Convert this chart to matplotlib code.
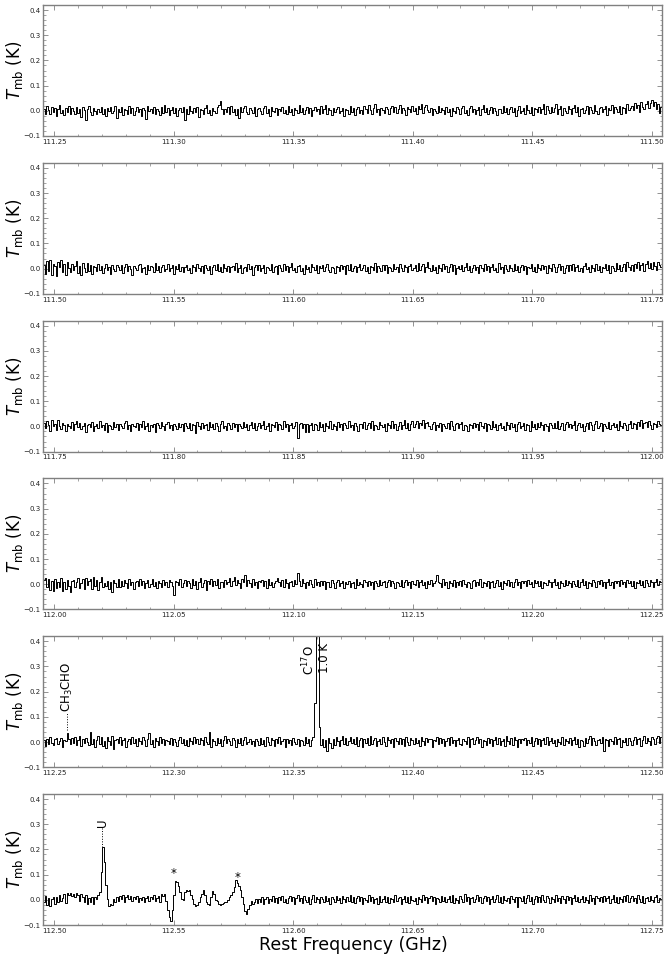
import numpy as np
import matplotlib
matplotlib.use("Agg")
import matplotlib.pyplot as plt
from matplotlib.ticker import MultipleLocator, FormatStrFormatter, FuncFormatter

# ---------------- data (main-beam temperature in mK per channel) ----------------
panel_start = [111.25, 111.50, 111.75, 112.00, 112.25, 112.50]  # first labelled tick (GHz)

spec1 = [8, -14, 20, 3, -11, 17, -6, 13, -21, 7, 22, -8, 4, -17, 11, -3, 18, -13, 10, 0,
         -13, 15, -7, 6, -24, 14, 4, -35, 8, 20, -4, -18, 10, 1, -11, 7, -3, 17, -14, 6,
         -22, 13, 0, 15, -8, -1, 21, -28, 7, -4, 14, -15, 8, 3, -11, 18, -7, 10, -17, 1,
         15, -6, 7, -20, 11, 4, -32, 20, -1, 8, -10, 17, -13, 6, 1, -18, 14, -8, 22, -3,
         10, -15, 4, 17, -7, 13, -20, 3, 11, -6, 14, -36, 8, -11, 18, 0, -8, 13, -4, 15,
         -24, 7, 3, -13, 10, 22, -7, 4, -15, 13, -1, -10, 17, 24, 38, 7, -14, 8, -4, 15,
         -11, 20, -3, 6, -18, 8, -30, 14, -6, 11, 21, -4, -14, 10, 3, -8, 15, -20, 7, 13,
         -1, -11, 10, 18, -7, 6, -22, 14, 1, -6, 11, -17, 8, 0, 17, -10, 4, -13, 20, -3,
         7, -18, 13, 4, -8, 24, -4, 10, -14, 3, 15, -7, 11, -21, 4, 14, -1, 8, -11, 18,
         -10, 6, 25, -14, 10, 3, -17, 13, -6, 7, 17, -8, 1, 11, -20, 8, 4, -13, 21, -4,
         10, -15, 6, 14, -7, 3, -11, 18, 8, -10, 22, 4, -14, 11, 26, -6, 7, -18, 13, 3,
         -8, 15, 6, -13, 10, 20, -4, 14, -10, 7, 24, -7, 13, 4, -15, 17, 8, -6, 21, 1,
         11, -11, 18, 7, 26, -8, 14, 22, 4, -3, 13, -17, 8, 1, -10, 20, -6, 11, 3, -14,
         17, -4, 7, -20, 13, 0, -8, 15, 6, -13, 10, 21, -7, 4, -15, 11, 18, -3, 8, -11,
         4, 14, -17, 7, 24, -6, 10, -13, 3, 17, -8, 13, -1, -18, 8, 6, -10, 20, -4, 11,
         -14, 7, 15, -6, 11, -21, 4, 18, -8, 1, 13, -11, 22, 3, -7, 14, -15, 10, 6, -4,
         17, -10, 8, 26, -13, 20, 4, -7, 15, -3, 10, 28, -11, 6, 21, -17, 13, 1, -8, 18,
         7, -14, 11, 24, -4, 17, -20, 8, 13, -7, 3, 20, -11, 14, 4, -8, 22, 1, -13, 10,
         15, -6, 8, 18, -15, 11, 3, 25, -8, 14, 6, -3, 21, -13, 17, 10, -7, 26, 4, 13,
         18, 3, 30, 10, 24, -6, 34, 16, 8, 28, 40, 13, 32, 44, 20, 36, 7, 26, -10, 15]

spec2 = [14, -22, 32, -8, 35, -26, 19, 10, -30, 26, 5, 33, -15, 17, -24, 28, 4, -13, 20, -5,
         10, 30, -18, 12, -27, 22, 3, -14, 24, -9, 16, -20, 11, 5, -11, 19, -7, 10, -16, 3,
         17, -6, 8, -22, 13, 0, -11, 15, 7, -4, 14, -18, 6, 20, -8, 10, -1, -25, 11, 4,
         -7, 13, 18, -14, 3, 8, -20, 15, -6, 10, 6, -13, 21, -4, 11, -15, 7, 14, -10, 0,
         18, -8, 4, 13, -22, 10, -3, 17, -11, 6, -14, 8, 15, -6, 3, -18, 13, 7, -10, 20,
         4, -11, 10, -17, 14, 1, -7, 11, -21, 8, 13, -4, 17, -10, 6, -14, 18, 3, -8, 11,
         -15, 7, 10, -6, 22, -13, 4, 14, -18, 1, 8, -10, 20, -3, 11, -24, 7, 15, -6, 13,
         -11, 4, 14, -17, 8, 3, -7, 18, -13, 6, 10, -20, 13, 1, -8, 17, -4, 11, -14, 7,
         21, -6, 3, -15, 10, 14, -10, 4, -22, 15, 0, 8, -13, 18, 6, -7, 13, -17, 10, 1,
         14, -11, 7, 20, -4, -14, 8, 3, -18, 11, 6, -8, 15, -3, 10, -21, 13, -6, 17, -10,
         4, 11, -15, 7, 18, -7, 1, 14, -11, 8, -17, 10, 6, -4, 21, -13, 11, 3, -8, 15,
         -6, 13, -18, 8, 4, -10, 17, -3, 7, -14, 20, 1, -11, 14, 6, -15, 10, 18, -7, 4,
         13, -8, 22, -4, 11, 17, -13, 7, 25, 3, -10, 14, -6, 8, -17, 15, 4, -11, 20, -1,
         10, -14, 6, 17, -8, 13, -20, 4, 11, -3, 15, -10, 7, 21, -6, 10, -15, 3, 14, -7,
         8, -18, 13, 1, -10, 18, -4, 11, -14, 6, 17, -7, 4, -13, 22, -3, 8, -17, 13, 0,
         -8, 15, 3, -11, 20, -6, 10, -15, 7, 14, -4, 11, -21, 8, 1, 18, -10, 6, -13, 17,
         3, -7, 14, -1, 10, -18, 13, 4, -11, 17, 7, -14, 8, 20, -6, 11, -17, 4, 15, -8,
         13, -4, 18, -11, 6, 14, -8, 3, -15, 10, 21, -3, 8, -13, 15, 1, -10, 18, -6, 11,
         -14, 8, 4, 17, -7, 13, -18, 10, 3, -10, 22, -1, 14, -11, 7, 18, -8, 25, 6, -4,
         15, -11, 20, 3, 26, -6, 13, 22, -8, 17, 30, 4, 21, -3, 25, 11, -7, 28, 14, 8]

spec3 = [14, -7, 20, 4, -17, 24, 0, 10, -13, 26, 3, -10, 15, 7, -20, 11, 1, -6, 18, -14,
         8, 21, -4, 13, -11, 0, 15, -24, 6, 10, -4, 17, -18, 3, 11, -8, 20, -1, 4, -13,
         14, -21, 7, 1, -10, 18, -3, 8, -15, 11, 0, -7, 13, 22, -11, 6, -20, 10, 3, -1,
         15, -14, 8, -4, 21, -10, 1, 13, -17, 7, -3, 11, -22, 14, 4, -8, 17, 0, -13, 10,
         18, -6, 7, -15, 11, 3, -11, 14, -1, 8, -18, 13, 1, -7, 15, -14, 10, 4, -25, 17,
         3, -10, 13, -6, 6, 11, -13, 18, -4, 8, -10, 14, 0, -17, 10, 20, -7, 3, -14, 13,
         4, -11, 15, -3, 8, -20, 11, 1, -8, 17, -1, 10, -15, 7, 18, -6, 13, -13, 3, 14,
         -8, 6, 21, -11, 0, 15, -18, 10, 7, -4, 17, -14, 8, 4, -10, 20, -3, 11, -17, 6,
         13, -7, 3, 18, -45, 8, 14, -6, 10, -21, 10, -22, 7, 15, -13, 8, 4, -14, 17, -4,
         11, -18, 14, 0, -7, 20, -11, 8, 3, -14, 18, -3, 10, -15, 13, 6, -8, 21, -1, 7,
         -13, 15, 3, -20, 11, 8, -6, 17, -10, 4, 14, -7, 20, -14, 7, 1, -11, 18, 6, -4,
         10, -17, 13, 4, -8, 22, -7, 11, -15, 3, 17, -10, 7, 24, -6, 14, -13, 8, 20, -4,
         11, 21, -8, 15, 4, 26, -7, 13, 18, 0, -10, 8, 17, -14, 6, -3, 13, -18, 10, 1,
         -7, 14, -11, 20, 3, -15, 8, 13, -6, 10, 17, -13, 4, 0, -20, 11, 7, -8, 15, -3,
         8, -14, 18, 1, -6, 13, -17, 10, 4, -11, 21, -4, 11, -15, 7, 14, -8, 3, -13, 17,
         6, -10, 15, -3, 11, -20, 8, 18, -7, 1, 13, -14, 10, 4, -17, 20, -1, 8, -11, 14,
         -4, 17, 7, -13, 10, 0, -18, 15, 6, -8, 14, -6, 22, -11, 3, 13, -15, 8, 18, -3,
         11, -8, 4, 20, -14, 7, 15, -4, 10, -18, 3, 14, -10, 17, 6, -13, 8, 21, -7, 1,
         13, -17, 10, 3, -7, 18, -11, 6, 15, -4, 8, -14, 20, 0, -8, 13, 4, -15, 11, 22,
         -6, 14, 8, -11, 18, 3, 25, -7, 13, 17, -4, 21, 6, -10, 15, 11, -3, 20, 8, 4]

spec4 = [18, 26, -10, 20, -22, 13, -28, 22, -15, 10, -13, 24, -26, 7, -19, 15, -8, -30, 12, 18,
         -10, 8, 24, -15, 4, 20, -21, 26, -5, 13, 19, -18, 28, -9, 15, -23, 10, 30, -12, 5,
         -7, 13, -19, 9, -32, 17, 4, -13, 21, -10, 12, -8, 18, 3, -14, 22, -4, 10, -18, 7,
         14, -9, 20, -3, 12, -17, 5, 16, -12, 0, 19, -7, 9, -16, 13, 4, -10, 18, -5, 8,
         -13, 16, 7, -8, -42, 14, 10, -4, 20, -12, 5, 17, -9, 13, 3, -14, 22, -5, 12, -19,
         10, 24, -10, 4, 17, -22, 12, 0, 19, -8, 13, -5, 22, -16, 7, 9, -13, 18, 1, 8,
         26, -7, 14, 30, -4, 17, 3, -14, 22, 7, 35, -9, 16, 5, -12, 19, -3, 10, -17, 13,
         7, 16, -8, 12, -17, 19, -3, 9, -13, 5, 14, 24, 8, -8, 18, -12, 22, 4, -17, 10,
         12, -7, 17, 1, 45, 13, -8, 20, 4, -16, 10, -5, 16, 0, -13, 19, -4, 8, -9, 14,
         -3, 12, -18, 7, 9, -10, 17, 3, -14, 8, 18, -8, 5, 13, -17, 10, -1, 14, -12, 4,
         9, -16, 19, -5, 8, 1, -13, 16, 7, -9, 14, -4, 10, -19, 12, 5, -8, 17, -3, 9,
         13, -12, 7, 18, -9, 14, 3, -17, 10, 5, -7, 16, -13, 8, 18, -4, 9, -14, 12, 1,
         -5, 16, -13, 8, 18, -4, 9, -14, 12, 1, 17, -9, 5, 13, 35, 8, 3, -10, 19, -5,
         10, -16, 14, 4, -8, 18, -12, 7, -3, 13, -9, 17, 1, -13, 9, 5, -17, 12, 16, -7,
         8, -4, 19, -12, 10, 3, -8, 14, -14, 7, 13, -10, 5, 17, -7, 9, -18, 12, 4, -3,
         16, -8, 10, -13, 7, 21, -5, 9, -16, 12, 4, 14, -9, 18, 0, 8, -12, 17, 5, 13,
         -7, 12, -17, 9, 3, -5, 16, 8, -13, 10, 19, -3, 7, -14, 13, 4, -9, 18, -4, 12,
         5, -12, 14, 1, -8, 17, -10, 7, 21, -5, 13, -16, 9, 3, -7, 16, 8, -13, 12, 0,
         17, -9, 10, -16, 7, 22, -5, 9, -17, 13, 4, 12, -9, 18, 1, 8, -12, 16, 5, 14,
         -7, 12, -14, 8, 3, 18, -4, 13, -10, 17, 5, -8, 16, 9, -13, 10, 20, -3, 12, 7]

spec5 = [8, -16, 13, -7, 18, -4, -13, 10, 16, -9, 5, 14, -18, 9, 3, 35, 12, -8, 16, -5,
         19, -10, 7, 23, -14, 12, -4, 17, 1, -12, 40, -7, 13, -21, 8, 24, -9, 18, -16, 4,
         -23, 18, 5, -10, 22, -26, 8, 13, -5, 20, -12, 9, 17, -19, 5, 12, -8, 19, -4, 10,
         -14, 16, 3, -9, 20, 7, -17, 13, 35, -7, 9, -18, 14, 4, -10, 18, -3, 12, -13, 8,
         4, -8, 17, -12, 10, 0, -16, 8, 19, -5, 13, -10, 7, -17, 16, 3, -9, 21, -4, 12,
         -7, 16, 9, -13, 18, 1, -8, 40, -19, 10, 5, -12, 17, -3, 12, -16, 8, 22, -5, 13,
         3, -10, 14, 7, -18, 12, -4, 17, -13, 8, 19, -7, 1, 13, -9, 5, -16, 10, 4, -12,
         16, -8, 9, -14, 21, 0, -10, 14, 7, -17, 12, -3, 18, -9, 4, 10, -19, 13, -5, 8,
         -12, 17, 1, -7, 13, -16, 9, 5, -10, 18, -4, 12, -14, 8, 20, 155, 1000, 1000, 60, -10,
         10, -18, 7, -35, 16, -5, -22, 12, -10, 19, 4, -16, 9, 23, -8, 14, -12, 5, 18, -3,
         13, -9, 21, -14, 7, 17, -19, 10, -4, 14, -12, 22, -7, 9, 16, -17, 5, 12, -9, 18,
         0, -14, 19, 8, -5, 12, -18, 14, 4, -9, 17, -7, 10, -16, 21, 1, -12, 16, 7, -8,
         14, -4, 9, -17, 19, 3, -12, 16, -1, 10, 13, -19, 8, 4, 18, -9, 14, -5, 12, -16,
         5, 16, -10, 19, -4, 9, -14, 7, 17, -7, -13, 12, 3, -9, 21, -18, 10, 14, -8, 7,
         18, -5, 13, -21, 9, 4, -12, 17, -3, 10, -16, 8, 19, -7, 14, -10, 5, 12, -17, 22,
         4, -9, 16, -13, 18, 8, -19, 10, -5, 13, 7, 17, -12, 9, -4, 21, -14, 3, 16, -8,
         12, -17, 8, 14, -7, 19, -10, 5, 17, -4, 9, -16, 13, 1, -9, 18, -13, 10, 4, -5,
         16, -12, 7, 21, -8, 13, -18, 9, 3, -14, 17, -5, 10, 22, -10, 14, 4, -13, 8, 12,
         -4, 18, -35, 10, 7, -16, 13, 3, -9, 19, -7, 12, 16, -18, 8, -1, 14, -10, 17, 5,
         -13, 9, 21, -7, 12, 17, -14, 8, 23, -4, 16, 5, -10, 19, 10, -8, 14, 22, -3, 18]

spec6 = [-10, 16, -19, 7, -24, 4, 13, -15, 10, -7, 18, -3, 8, 22, -12, 26, 18, 28, 15, 24,
         10, 28, 20, -5, 24, 13, -10, 18, -15, 8, -7, 13, -18, 10, 3, 19, 30, 110, 210, 150,
         60, 5, -24, -15, -20, 5, -8, 13, -4, 16, 3, 18, -7, 10, 20, 4, 14, -3, 12, 5,
         17, -8, 9, 1, 13, -10, 7, 16, -5, 12, 3, 19, -4, 8, 14, -7, 22, 16, 24, -5,
         -40, -70, -85, -40, 20, 75, 70, 55, 30, 5, 0, 30, 40, 35, 40, 20, 5, -15, -25, -20,
         -10, 10, 25, 38, 20, -10, -15, -22, 10, 35, 25, 0, -5, -15, -22, -18, -12, -8, -10, 0,
         10, 18, 30, 50, 78, 65, 55, 40, 10, -15, -45, -55, -35, -20, -5, -15, -8, 5, -12, 3,
         -8, 10, -18, 3, 13, -12, 5, -4, 16, -9, 8, -14, 12, 0, 17, -7, 4, -13, 9, 14,
         -5, 10, -17, 7, 18, -3, 8, -12, 14, 1, -9, 13, -16, 5, 19, -8, 10, 3, -13, 12,
         4, -10, 16, -4, 8, -18, 12, 3, -7, 14, -1, 9, -14, 17, 5, -10, 13, -4, 21, -8,
         10, -13, 7, 16, -5, 12, -17, 8, 1, -9, 18, -3, 13, -12, 4, 9, -16, 14, -7, 5,
         16, -8, 12, -14, 9, 3, -10, 20, -4, 8, 13, -16, 5, 17, -7, 10, -12, 14, 1, -5,
         8, -17, 13, 4, -9, 18, -1, 10, -13, 7, 16, -5, 12, -18, 8, 3, -8, 17, -3, 13,
         -10, 5, 14, -7, 20, -12, 9, 1, -14, 16, 4, -8, 23, -4, 12, -16, 7, 13, -9, 3,
         18, -5, 10, -13, 8, 17, -3, 12, -17, 5, 14, -9, 3, 21, -7, 10, -12, 16, 0, -4,
         9, -14, 17, 4, -8, 13, -28, 10, 7, -5, 16, -12, 8, 18, -4, 12, -16, 5, 14, -9,
         13, -7, 20, 1, -10, 16, 8, -13, 12, 4, -8, 18, -3, 9, -14, 14, 5, -12, 17, -1,
         10, -16, 8, 21, -5, 13, -10, 4, 16, -8, 12, 1, -13, 18, -4, 9, -17, 14, 7, -3,
         12, -9, 17, -5, 8, 14, -12, 3, 20, -7, 10, -14, 13, 5, -9, 16, -3, 21, -10, 8,
         14, -4, 9, -13, 18, 3, -8, 16, -12, 7, 13, -5, 17, 1, -10, 12, 20, -7, 9, 4]

spectra = [spec1, spec2, spec3, spec4, spec5, spec6]

# labelled lines: (panel, freq GHz, label, dotted line from y, to y)
line_labels = [
    (4, 112.2554, r'CH$_3$CHO', 0.047, 0.115),
    (5, 112.5201, 'U', 0.21, 0.285),
]
# other texts: (panel, freq GHz, y, text, rotation)
extra_texts = [
    (4, 112.3566, 0.325, r'C$^{17}$O', 90),
    (4, 112.3630, 0.335, '1.0 K', 90),
    (5, 112.5500, 0.105, '*', 0),
    (5, 112.5768, 0.088, '*', 0),
]

# ---------------- figure ----------------
W, H = 671, 959
fig = plt.figure(figsize=(W / 100, H / 100), dpi=100)

left_px, right_px = 43.3, 662.0
lo_off, hi_off = 0.0045, 0.2543
spine_col = '#808080'


def yfmt(v, p):
    if v < -1e-9:
        return '\u2212%.1f' % -v
    return '%.1f' % abs(v)


axes = []
for i, (a, spec) in enumerate(zip(panel_start, spectra)):
    top_px = 5 + 157.8 * i
    h_px = 131
    ax = fig.add_axes([left_px / W, 1 - (top_px + h_px) / H,
                       (right_px - left_px) / W, h_px / H])
    x0, x1 = a - lo_off, a + hi_off
    n = len(spec)
    df = (x1 - x0) / n
    freq = x0 + (np.arange(n) + 0.5) * df
    ax.step(freq, np.array(spec) / 1000.0, where='mid', color='black', lw=0.7)
    ax.set_xlim(x0, x1)
    ax.set_ylim(-0.1, 0.42)
    ax.xaxis.set_major_locator(MultipleLocator(0.05))
    ax.xaxis.set_minor_locator(MultipleLocator(0.01))
    ax.yaxis.set_major_locator(MultipleLocator(0.1))
    ax.yaxis.set_minor_locator(MultipleLocator(0.02))
    ax.xaxis.set_major_formatter(FormatStrFormatter('%.2f'))
    ax.yaxis.set_major_formatter(FuncFormatter(yfmt))
    ax.tick_params(which='both', direction='in', top=True, right=True,
                   color=spine_col, labelsize=5, labelcolor='#222222', pad=2)
    ax.tick_params(which='major', length=3.5, width=0.6)
    ax.tick_params(which='minor', length=1.8, width=0.5)
    for s in ax.spines.values():
        s.set_color(spine_col)
        s.set_linewidth(1.0)
    ax.set_ylabel(r'$T_{\rm mb}$ (K)', fontsize=12)
    ax.yaxis.set_label_coords(-0.03, 0.5)
    axes.append(ax)

for (p, f, txt, y0, y1) in line_labels:
    ax = axes[p]
    ax.plot([f, f], [y0, y1], ls=':', color='black', lw=0.7)
    ax.text(f, y1 + 0.005, txt, rotation=90, ha='center', va='bottom', fontsize=8.5)

for (p, f, ty, txt, rot) in extra_texts:
    axes[p].text(f, ty, txt, rotation=rot, ha='center', va='center', fontsize=8.5)

fig.text(353 / W, 1 - 945 / H, 'Rest Frequency (GHz)', ha='center', va='center', fontsize=12.5)

fig.savefig('out.png', dpi=100)
